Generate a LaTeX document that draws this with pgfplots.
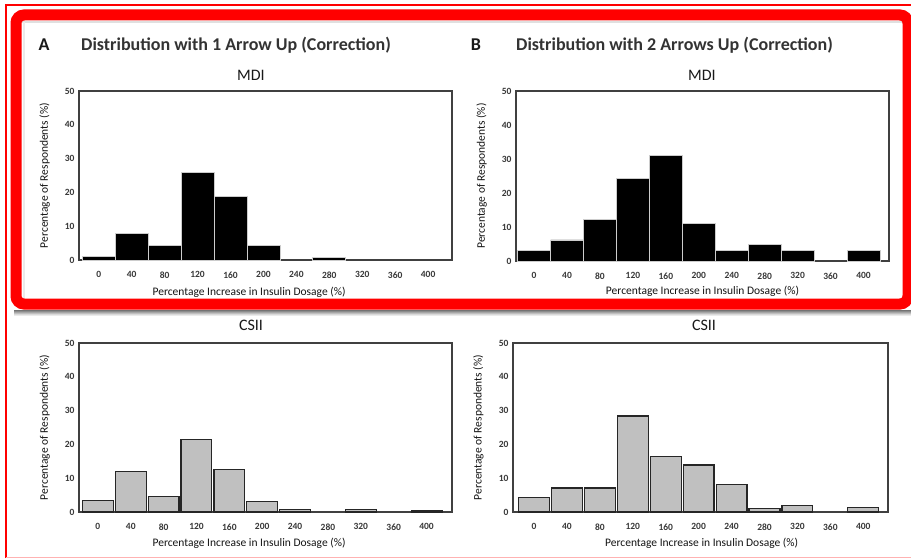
\documentclass[border=0pt]{standalone}
\usepackage{fontspec}
\setmainfont{Carlito}
\usepackage{pgfplots}
\pgfplotsset{compat=1.18}
\definecolor{frame}{RGB}{255,0,0}
\definecolor{bargray}{RGB}{192,192,192}
\pgfplotsset{
  histo/.style={
    scale only axis,
    ymin=0, ymax=50,
    ytick={0,10,20,30,40,50},
    xtick={0,40,80,120,160,200,240,280,320,360,400},
    major tick length=0pt,
    axis line style={draw=black!75, line width=1.3pt},
    /pgf/number format/assume math mode=true,
    tick label style={font=\fontsize{9.5}{10}\selectfont\bfseries, text=black!78},
    xticklabel style={yshift=-8pt},
    yticklabel style={xshift=-1pt},
    label style={font=\fontsize{11.5}{12}\selectfont, text=black!92},
    ylabel={Percentage of Respondents (\%)},
    xlabel={Percentage Increase in Insulin Dosage (\%)},
    ylabel style={at={(axis description cs:-0.092,0.5)}, anchor=center, rotate=0},
    ybar, bar shift=0pt,
    clip=false,
  },
  blackbars/.style={fill=black, draw=white!80!black, line width=0.7pt},
  graybars/.style={fill=bargray, draw=black!85, line width=1.2pt},
}
\begin{document}
\begin{tikzpicture}[x=1pt,y=1pt]
\path[use as bounding box, fill=white] (0,0) rectangle (911,558);
% outer thin lines
\draw[frame, line width=1.2pt] (6,0) -- (6,553) -- (911,553);
\draw[frame!30, line width=1pt] (6,1) -- (911,1);
% shadow under red frame
\foreach \i/\c in {0/55,1/45,2/35,3/25,4/15,5/8}{
  \draw[black!\c, line width=1pt] (14,247.5-\i) -- (911,247.5-\i);
}
\draw[black!12, line width=2pt] (22,536) -- (903,536);
\draw[black!8, line width=2pt] (23.5,260) -- (23.5,536);
% thick red frame
\draw[frame, line width=11pt, rounded corners=8pt] (16,254) rectangle (908,543);
% titles
\node[font=\fontsize{18}{20}\selectfont\bfseries, text=black!90] at (44,513) {A};
\node[font=\fontsize{18}{20}\selectfont\bfseries, text=black!80, anchor=west, inner sep=0pt] at (81,513) {Distribution with 1 Arrow Up (Correction)};
\node[font=\fontsize{18}{20}\selectfont\bfseries, text=black!90] at (476,513) {B};
\node[font=\fontsize{18}{20}\selectfont\bfseries, text=black!80, anchor=west, inner sep=0pt] at (516,513) {Distribution with 2 Arrows Up (Correction)};
\node[font=\fontsize{16}{18}\selectfont, text=black!90] at (251,483) {MDI};
\node[font=\fontsize{16}{18}\selectfont, text=black!90] at (702,483) {MDI};
\node[font=\fontsize{16}{18}\selectfont, text=black!90] at (251,233) {CSII};
\node[font=\fontsize{16}{18}\selectfont, text=black!90] at (704,233) {CSII};

% Panel A: MDI, 1 arrow
\begin{axis}[histo, at={(79pt,298pt)}, anchor=south west, width=373pt, height=169pt,
  xmin=-24, xmax=429, bar width=40,
  xlabel style={at={(axis description cs:0.456,0)}, anchor=center, yshift=-32pt}]
\addplot[blackbars] coordinates {(0,1.0) (40,7.8) (80,4.3) (120,25.8) (160,18.7) (200,4.3) (280,0.8)};
\end{axis}

% Panel B: MDI, 2 arrows
\begin{axis}[histo, at={(516pt,297pt)}, anchor=south west, width=373pt, height=170pt,
  xmin=-22, xmax=431, bar width=40,
  xlabel style={at={(axis description cs:0.5,0)}, anchor=center, yshift=-30pt}]
\addplot[blackbars] coordinates {(0,3.2) (40,6.2) (80,12.3) (120,24.2) (160,31.1) (200,11.1) (240,3.2) (280,5.0) (320,3.2) (400,3.2)};
\end{axis}

% Panel C: CSII, 1 arrow
\begin{axis}[histo, at={(79pt,46pt)}, anchor=south west, width=373pt, height=169pt,
  xmin=-23, xmax=431, bar width=37.5,
  xlabel style={at={(axis description cs:0.456,0)}, anchor=center, yshift=-31pt}]
\addplot[graybars] coordinates {(0,3.5) (40,12.0) (80,4.7) (120,21.5) (160,12.6) (200,3.2) (240,0.7) (320,0.7) (400,0.4)};
\end{axis}

% Panel D: CSII, 2 arrows
\begin{axis}[histo, at={(513pt,46pt)}, anchor=south west, width=375pt, height=169pt,
  xmin=-25.5, xmax=430, bar width=37.5,
  xlabel style={at={(axis description cs:0.503,0)}, anchor=center, yshift=-31pt}]
\addplot[graybars] coordinates {(0,4.3) (40,7.1) (80,7.1) (120,28.4) (160,16.4) (200,13.9) (240,8.2) (280,1.0) (320,1.9) (400,1.4)};
\end{axis}
\end{tikzpicture}
\end{document}
